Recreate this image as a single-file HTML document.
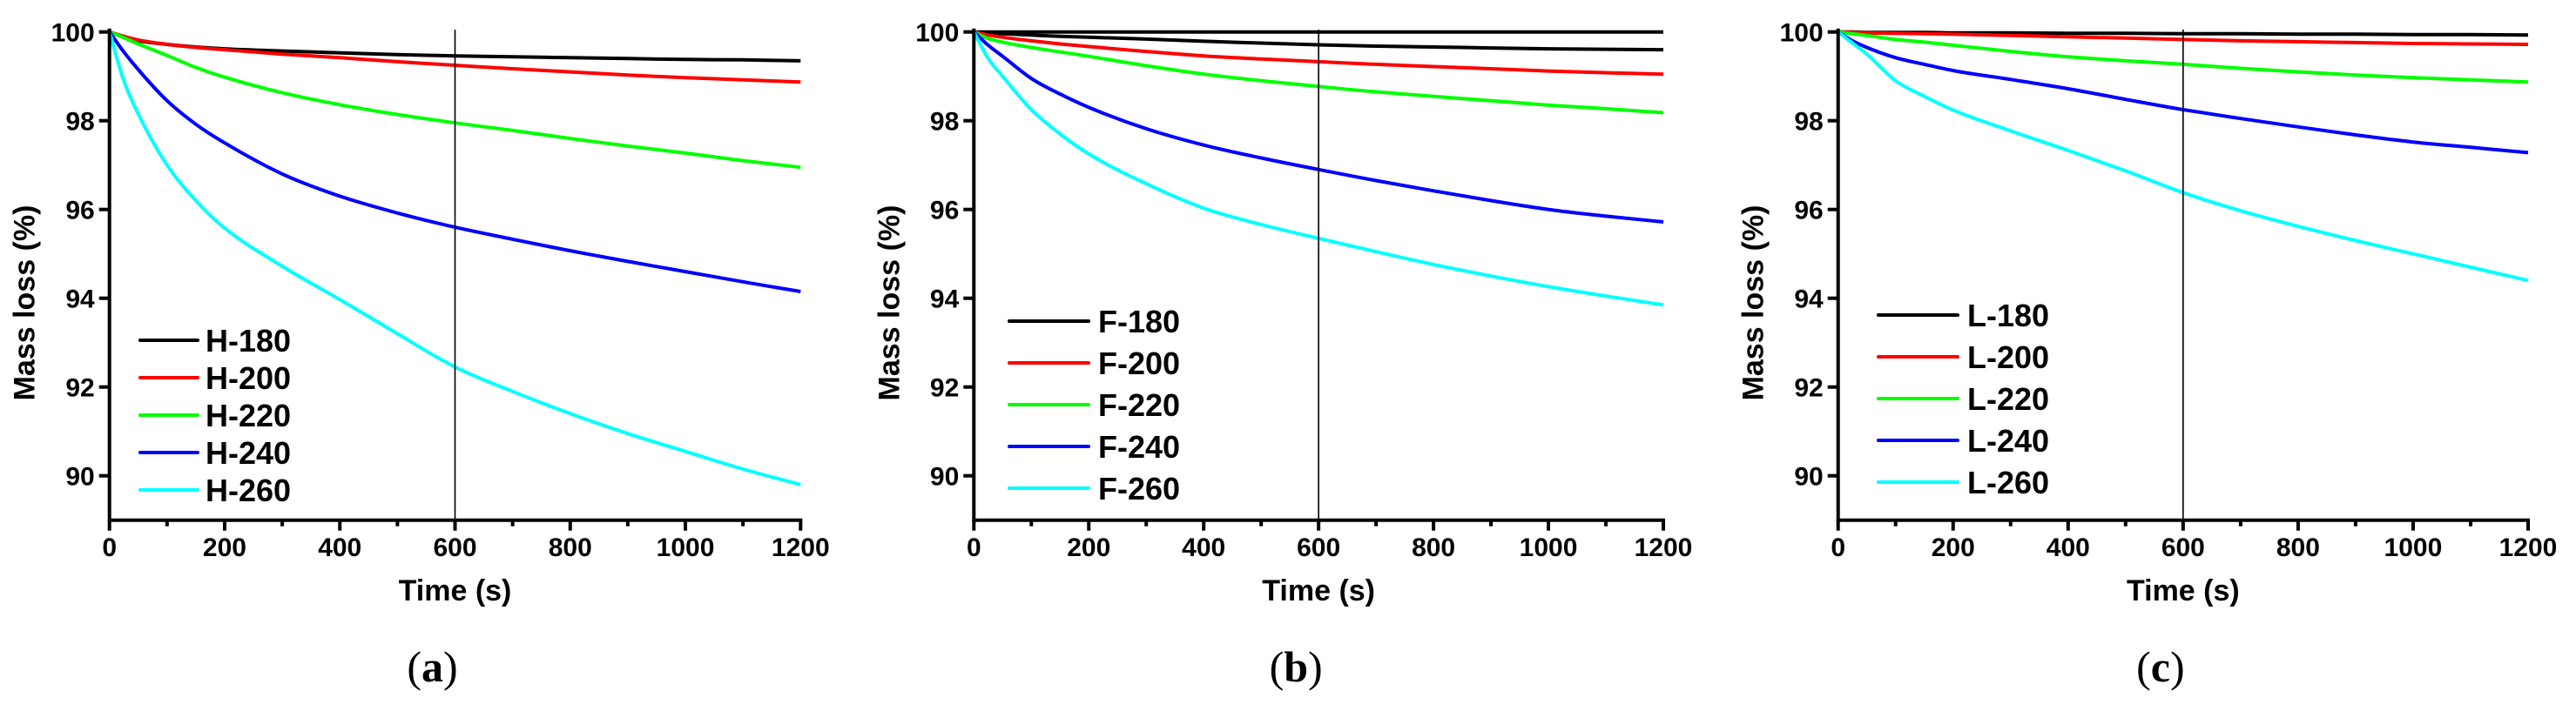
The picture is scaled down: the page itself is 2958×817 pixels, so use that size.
<!DOCTYPE html>
<html><head><meta charset="utf-8"><style>
html,body{margin:0;padding:0;background:#fff;}
svg{display:block;}
text{font-family:"Liberation Sans",Arial,sans-serif;font-weight:bold;fill:#000;}
.pl{font-family:"Liberation Serif",serif;font-weight:normal;}
</style></head><body>
<svg id="fig" width="2958" height="817" viewBox="0 0 2958 817" xmlns="http://www.w3.org/2000/svg"></svg>
<script>
const times = [0,25,50,100,150,200,300,400,500,600,700,800,900,1000,1100,1200];
const xTicks = [0,200,400,600,800,1000,1200];
const yTicks = [90,92,94,96,98,100];
const colors = ["#000000","#ff0000","#00ff00","#0000ff","#00ffff"];

const hLabels = ["H-180","H-200","H-220","H-240","H-260"];
const h180 = [100,99.88,99.8,99.72,99.66,99.62,99.57,99.53,99.49,99.46,99.44,99.42,99.4,99.38,99.37,99.35];
const h200 = [100,99.9,99.82,99.72,99.65,99.6,99.5,99.42,99.33,99.25,99.17,99.1,99.03,98.97,98.92,98.87];
const h220 = [100,99.87,99.73,99.47,99.2,98.98,98.63,98.36,98.14,97.95,97.78,97.6,97.43,97.27,97.1,96.95];
const h240 = [100,99.55,99.15,98.45,97.92,97.5,96.8,96.3,95.92,95.6,95.33,95.07,94.83,94.6,94.37,94.15];
const h260 = [100,98.9,98.15,97.0,96.2,95.58,94.72,93.97,93.2,92.45,91.9,91.4,90.95,90.55,90.15,89.8];

const fLabels = ["F-180","F-200","F-220","F-240","F-260"];
const fBase = [100,100,100,100,100,100,100,100,100,100,100,100,100,100,100,100];
const f180 = [100,99.98,99.96,99.93,99.9,99.88,99.84,99.79,99.75,99.71,99.68,99.66,99.64,99.62,99.61,99.6];
const f200 = [100,99.93,99.88,99.8,99.73,99.67,99.56,99.46,99.39,99.33,99.27,99.22,99.17,99.12,99.08,99.05];
const f220 = [100,99.85,99.77,99.65,99.55,99.45,99.24,99.05,98.9,98.77,98.65,98.55,98.45,98.35,98.27,98.18];
const f240 = [100,99.7,99.45,98.95,98.6,98.3,97.82,97.45,97.16,96.9,96.65,96.42,96.2,96.0,95.85,95.72];
const f260 = [100,99.4,99.0,98.25,97.7,97.25,96.58,96.03,95.66,95.35,95.05,94.76,94.5,94.26,94.05,93.85];

const lLabels = ["L-180","L-200","L-220","L-240","L-260"];
const l180 = [100,100,99.99,99.99,99.99,99.98,99.98,99.97,99.97,99.96,99.96,99.95,99.95,99.94,99.94,99.93];
const l200 = [100,99.99,99.98,99.97,99.96,99.95,99.92,99.89,99.86,99.83,99.8,99.78,99.76,99.74,99.73,99.72];
const l220 = [100,99.96,99.92,99.83,99.77,99.7,99.56,99.44,99.35,99.27,99.18,99.1,99.03,98.97,98.92,98.87];
const l240 = [100,99.8,99.65,99.42,99.27,99.13,98.93,98.72,98.48,98.25,98.05,97.86,97.68,97.52,97.4,97.28];
const l260 = [100,99.75,99.5,98.9,98.55,98.24,97.77,97.33,96.87,96.38,95.97,95.62,95.3,95.0,94.7,94.4];

const NS="http://www.w3.org/2000/svg";
const svg=document.getElementById('fig');
function mk(tag,attrs,parent){const e=document.createElementNS(NS,tag);for(const k in attrs)e.setAttribute(k,attrs[k]);(parent||svg).appendChild(e);return e;}

function smoothPath(xsArr,ysArr){
  const n=xsArr.length, d=[], m=new Array(n);
  for(let i=0;i<n-1;i++) d.push((ysArr[i+1]-ysArr[i])/(xsArr[i+1]-xsArr[i]));
  m[0]=d[0]; m[n-1]=d[n-2];
  for(let i=1;i<n-1;i++){ m[i]=(d[i-1]*d[i]<=0)?0:(d[i-1]+d[i])/2; }
  for(let i=0;i<n-1;i++){
    if(d[i]===0){m[i]=0;m[i+1]=0;continue;}
    const a=m[i]/d[i], b=m[i+1]/d[i], s=a*a+b*b;
    if(s>9){const t=3/Math.sqrt(s);m[i]=t*a*d[i];m[i+1]=t*b*d[i];}
  }
  let p=`M${xsArr[0].toFixed(1)},${ysArr[0].toFixed(1)}`;
  for(let i=0;i<n-1;i++){
    const h=(xsArr[i+1]-xsArr[i])/3;
    p+=` C${(xsArr[i]+h).toFixed(1)},${(ysArr[i]+m[i]*h).toFixed(1)} ${(xsArr[i+1]-h).toFixed(1)},${(ysArr[i+1]-m[i+1]*h).toFixed(1)} ${xsArr[i+1].toFixed(1)},${ysArr[i+1].toFixed(1)}`;
  }
  return p;
}

const panels=[
 {id:'a',x0:125.7,x1:919.3,labels:hLabels,series:[h180,h200,h220,h240,h260],extra:null,legX:161,legY0:391,legDy:43,tag:'a'},
 {id:'b',x0:1118.3,x1:1910,labels:fLabels,series:[f180,f200,f220,f240,f260],extra:fBase,legX:1159,legY0:369,legDy:48,tag:'b'},
 {id:'c',x0:2110.7,x1:2903,labels:lLabels,series:[l180,l200,l220,l240,l260],extra:null,legX:2157,legY0:362,legDy:48,tag:'c'}
];
const yTop=36.7, yPer=51, yMin=89;
panels.forEach(p=>{
  const g=mk('g',{});
  
  
  const xs=t=>p.x0+(t/1200)*(p.x1-p.x0);
  const ys=v=>yTop+(100-v)*yPer;
  const yb=ys(yMin);
  const drawLine=(arr,col,name)=>{
    const pth=mk('path',{d:smoothPath(times.map(xs),arr.map(ys)),fill:'none',stroke:col,'stroke-width':4,'stroke-linejoin':'round'},g);
    
    
  };
  if(p.extra) drawLine(p.extra,'#000','baseline-100');
  p.series.forEach((s,i)=>drawLine(s,colors[i],'series-'+p.labels[i].toLowerCase()));
  const vl=mk('line',{x1:xs(600),x2:xs(600),y1:34,y2:yb,stroke:'#000','stroke-width':1.6},g);
  
  
  const ax=mk('path',{d:`M${p.x0},${yTop-2} L${p.x0},${yb} L${p.x1},${yb}`,fill:'none',stroke:'#000','stroke-width':4,'stroke-linecap':'square'},g);
  
  
  for(let t=0;t<=1200;t+=100){
    const major=t%200===0;
    mk('line',{x1:xs(t),x2:xs(t),y1:yb,y2:yb+(major?12:7),stroke:'#000','stroke-width':4},g);
  }
  xTicks.forEach(t=>{
    const tx=mk('text',{x:xs(t),y:639,'font-size':30,'text-anchor':'middle'},g);
    tx.textContent=t;
    
    
  });
  yTicks.forEach(v=>{
    mk('line',{x1:p.x0-12,x2:p.x0,y1:ys(v),y2:ys(v),stroke:'#000','stroke-width':4},g);
    const tx=mk('text',{x:p.x0-17,y:ys(v)+11,'font-size':30,'text-anchor':'end'},g);
    tx.textContent=v;
    
    
  });
  const cx=(p.x0+p.x1)/2;
  const xt=mk('text',{x:cx,y:690,'font-size':34,'text-anchor':'middle'},g);
  xt.textContent='Time (s)';
  
  
  const yx=p.x0-86, yy=348;
  const yt=mk('text',{x:yx,y:yy,'font-size':34,'text-anchor':'middle',transform:`rotate(-90 ${yx} ${yy})`},g);
  yt.textContent='Mass loss (%)';
  
  
  p.labels.forEach((lab,i)=>{
    const y=p.legY0+i*p.legDy;
    const lg=mk('g',{},g);
    
    
    mk('line',{x1:p.legX,x2:p.legX+(p.id==='a'?66:91),y1:y,y2:y,stroke:colors[i],'stroke-width':4,'stroke-linecap':'round'},lg);
    const tx=mk('text',{x:p.legX+(p.id==='a'?75:102),y:y+13,'font-size':36},lg);
    tx.textContent=lab;
  });
  const pt=mk('text',{x:cx-26,y:783,'font-size':50,'text-anchor':'middle',class:'pl'},g);
  
  
  const a=mk('tspan',{},pt);a.textContent='(';
  const b=mk('tspan',{'font-weight':'bold'},pt);b.textContent=p.tag;
  const c=mk('tspan',{},pt);c.textContent=')';
});
</script>
</body></html>
